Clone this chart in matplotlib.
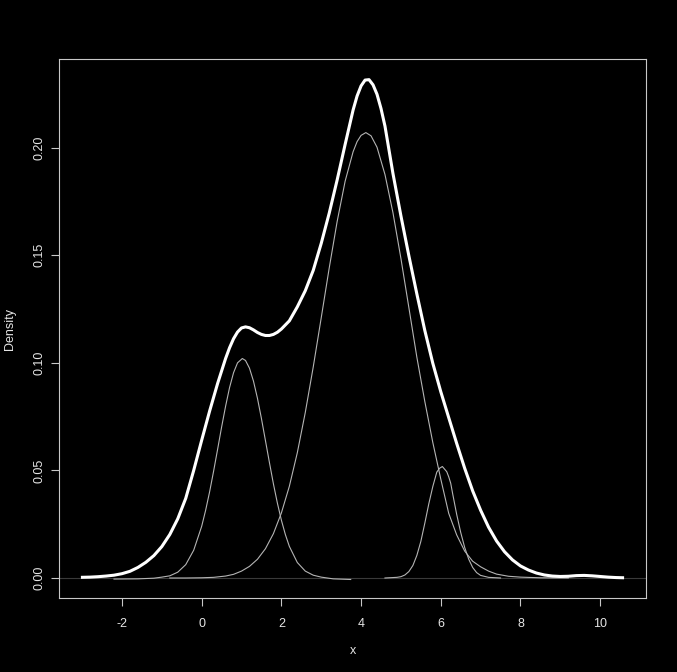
import matplotlib
matplotlib.use("Agg")
import matplotlib.pyplot as plt

# Total density (thick white curve)
total_x = [-3.03, -2.8, -2.6, -2.4, -2.2, -2.0, -1.8, -1.6, -1.4, -1.2, -1.0, -0.8, -0.6,
           -0.4, -0.2, 0.0, 0.2, 0.4, 0.6, 0.7, 0.8, 0.9, 1.0, 1.1, 1.2, 1.3, 1.4, 1.5, 1.6,
           1.7, 1.8, 1.9, 2.0, 2.2, 2.4, 2.6, 2.8, 3.0, 3.2, 3.4, 3.6, 3.8, 3.9, 4.0, 4.1,
           4.2, 4.3, 4.4, 4.5, 4.6, 4.8, 5.0, 5.2, 5.4, 5.6, 5.8, 6.0, 6.2, 6.4, 6.6, 6.8,
           7.0, 7.2, 7.4, 7.6, 7.8, 8.0, 8.2, 8.4, 8.6, 8.8, 9.0, 9.2, 9.4, 9.6, 9.8, 10.0,
           10.2, 10.4, 10.6]
total_y = [0.0003, 0.0004, 0.0006, 0.0009, 0.0013, 0.0020, 0.0031, 0.0049, 0.0073, 0.0104,
           0.0146, 0.0202, 0.0275, 0.0370, 0.0500, 0.0640, 0.0776, 0.0904, 0.1020, 0.1070,
           0.1112, 0.1143, 0.1162, 0.1167, 0.1163, 0.1153, 0.1141, 0.1132, 0.1127, 0.1127,
           0.1132, 0.1142, 0.1157, 0.1195, 0.1260, 0.1335, 0.1430, 0.1555, 0.1695, 0.1850,
           0.2015, 0.2175, 0.2240, 0.2287, 0.2314, 0.2316, 0.2292, 0.2248, 0.2182, 0.2100,
           0.1880, 0.1683, 0.1497, 0.1320, 0.1150, 0.0998, 0.0866, 0.0745, 0.0625, 0.0510,
           0.0405, 0.0315, 0.0236, 0.0172, 0.0122, 0.0084, 0.0056, 0.0037, 0.0023, 0.0014,
           0.0009, 0.0007, 0.0008, 0.0011, 0.0012, 0.0010, 0.0007, 0.0004, 0.0002, 0.0001]

# Component 1 (thin gray, peak near 1)
comp1_x = [-2.2, -1.6, -1.2, -1.0, -0.8, -0.6, -0.4, -0.2, 0.0, 0.1, 0.2, 0.3, 0.4, 0.5,
           0.6, 0.7, 0.8, 0.9, 1.02, 1.1, 1.2, 1.3, 1.4, 1.5, 1.6, 1.7, 1.8, 1.9, 2.0, 2.1,
           2.2, 2.4, 2.6, 2.8, 3.0, 3.3, 3.74]
comp1_y = [-0.0005, -0.0004, -0.0001, 0.0004, 0.0010, 0.0027, 0.0062, 0.0129, 0.0240,
           0.0315, 0.0401, 0.0497, 0.0598, 0.0701, 0.0798, 0.0885, 0.0954, 0.1000, 0.1020,
           0.1011, 0.0975, 0.0915, 0.0835, 0.0741, 0.0639, 0.0537, 0.0438, 0.0348, 0.0269,
           0.0202, 0.0147, 0.0072, 0.0032, 0.0013, 0.0004, -0.0004, -0.0007]

# Component 2 (thin gray, peak near 4)
comp2_x = [-0.8, -0.4, 0.0, 0.3, 0.6, 0.8, 1.0, 1.2, 1.4, 1.6, 1.8, 2.0, 2.2, 2.4, 2.6,
           2.8, 3.0, 3.2, 3.4, 3.6, 3.8, 3.9, 4.0, 4.12, 4.25, 4.4, 4.6, 4.8, 5.0, 5.2, 5.4,
           5.6, 5.8, 6.0, 6.2, 6.4, 6.6, 6.8, 7.0, 7.2, 7.4, 7.7, 8.0, 8.5, 9.2]
comp2_y = [0.0000, 0.0000, 0.0001, 0.0003, 0.0009, 0.0017, 0.0032, 0.0054, 0.0087, 0.0136,
           0.0206, 0.0302, 0.0426, 0.0582, 0.0769, 0.0981, 0.1209, 0.1440, 0.1657, 0.1844,
           0.1981, 0.2028, 0.2057, 0.2070, 0.2055, 0.2002, 0.1875, 0.1698, 0.1485, 0.1256,
           0.1026, 0.0820, 0.0630, 0.0460, 0.0300, 0.0200, 0.0125, 0.0078, 0.0052, 0.0032,
           0.0018, 0.0008, 0.0004, 0.0001, 0.0000]

# Component 3 (thin gray, peak near 6)
comp3_x = [4.6, 4.9, 5.0, 5.1, 5.2, 5.3, 5.4, 5.5, 5.6, 5.7, 5.8, 5.9, 5.97, 6.04, 6.1,
           6.15, 6.2, 6.25, 6.3, 6.4, 6.5, 6.6, 6.7, 6.8, 6.9, 7.0, 7.2, 7.5]
comp3_y = [0.0000, 0.0003, 0.0006, 0.0014, 0.0030, 0.0058, 0.0105, 0.0170, 0.0255, 0.0345,
           0.0425, 0.0492, 0.0510, 0.0518, 0.0505, 0.0494, 0.0470, 0.0440, 0.0390, 0.0295,
           0.0212, 0.0142, 0.0088, 0.0049, 0.0025, 0.0012, 0.0003, 0.0000]

x_ticks = [-2, 0, 2, 4, 6, 8, 10]
y_ticks = [0.00, 0.05, 0.10, 0.15, 0.20]
y_tick_labels = ["0.00", "0.05", "0.10", "0.15", "0.20"]

plt.rcParams['font.family'] = ['Liberation Sans', 'DejaVu Sans']

fig = plt.figure(figsize=(6.77, 6.72), dpi=100, facecolor='black')
ax = fig.add_axes([59/677, 74/672, (646-59)/677, (598-59)/672], facecolor='black')

ax.axhline(0, color='#3a3a3a', lw=0.8, zorder=1)
for cx, cy in [(comp1_x, comp1_y), (comp2_x, comp2_y), (comp3_x, comp3_y)]:
    ax.plot(cx, cy, color='#b4b4b4', lw=0.8, zorder=2)
ax.plot(total_x, total_y, color='white', lw=2.2, zorder=3, solid_capstyle='butt')

ax.set_xlim(-3.58, 11.15)
ax.set_ylim(-0.0093, 0.2412)
ax.set_xticks(x_ticks)
ax.set_xticklabels([str(t) for t in x_ticks])
ax.set_yticks(y_ticks)
ax.set_yticklabels(y_tick_labels, rotation=90, va='center')

for s in ax.spines.values():
    s.set_color('#c8c8c8')
    s.set_linewidth(0.8)
ax.tick_params(axis='both', colors='#c8c8c8', labelcolor='#e6e6e6', length=5.5,
               width=0.8, labelsize=9)
ax.tick_params(axis='x', pad=9)
ax.tick_params(axis='y', pad=4)

ax.set_xlabel('x', color='#e6e6e6', fontsize=9, labelpad=11)
ax.set_ylabel('Density', color='#e6e6e6', fontsize=9, labelpad=13)

fig.savefig('out.png', dpi=100, facecolor='black')
